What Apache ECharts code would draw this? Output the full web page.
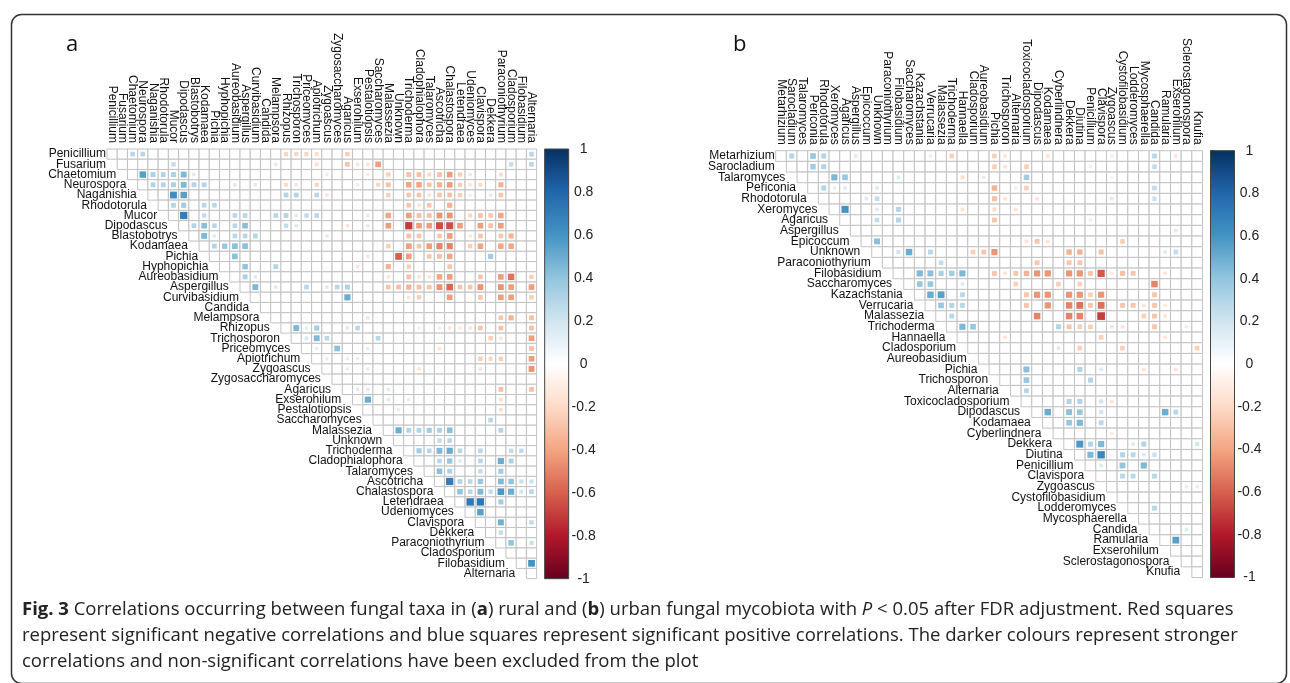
<!DOCTYPE html>
<html>
<head>
<meta charset="utf-8">
<title>Fig. 3 fungal correlations</title>
<script src="https://cdn.jsdelivr.net/npm/echarts@6/dist/echarts.min.js"></script>
<style>
html, body { margin: 0; padding: 0; background: #fff; }
#chart { width: 1290px; height: 683px; }
</style>
</head>
<body>
<div id="chart"></div>
<script>
// taxa, in plot order (rows top->bottom, columns left->right)
var taxaA = ['Penicillium', 'Fusarium', 'Chaetomium', 'Neurospora', 'Naganishia', 'Rhodotorula', 'Mucor',
	'Dipodascus', 'Blastobotrys', 'Kodamaea', 'Pichia', 'Hyphopichia', 'Aureobasidium', 'Aspergillus',
	'Curvibasidium', 'Candida', 'Melampsora', 'Rhizopus', 'Trichosporon', 'Priceomyces', 'Apiotrichum',
	'Zygoascus', 'Zygosaccharomyces', 'Agaricus', 'Exserohilum', 'Pestalotiopsis', 'Saccharomyces',
	'Malassezia', 'Unknown', 'Trichoderma', 'Cladophialophora', 'Talaromyces', 'Ascotricha', 'Chalastospora',
	'Letendraea', 'Udeniomyces', 'Clavispora', 'Dekkera', 'Paraconiothyrium', 'Cladosporium', 'Filobasidium',
	'Alternaria'];

var taxaB = ['Metarhizium', 'Sarocladium', 'Talaromyces', 'Periconia', 'Rhodotorula', 'Xeromyces', 'Agaricus',
	'Aspergillus', 'Epicoccum', 'Unknown', 'Paraconiothyrium', 'Filobasidium', 'Saccharomyces', 'Kazachstania',
	'Verrucaria', 'Malassezia', 'Trichoderma', 'Hannaella', 'Cladosporium', 'Aureobasidium', 'Pichia',
	'Trichosporon', 'Alternaria', 'Toxicocladosporium', 'Dipodascus', 'Kodamaea', 'Cyberlindnera', 'Dekkera',
	'Diutina', 'Penicillium', 'Clavispora', 'Zygoascus', 'Cystofilobasidium', 'Lodderomyces', 'Mycosphaerella',
	'Candida', 'Ramularia', 'Exserohilum', 'Sclerostagonospora', 'Knufia'];

// significant correlations: [row, col, r]  (rural)
var corrA = [
	[0,2,0.28],[0,3,0.28],[0,17,-0.22],[0,18,-0.22],[0,19,-0.22],[0,20,-0.2],[0,23,-0.25],[0,41,0.28],
	[1,6,0.25],[1,16,0.15],[1,20,-0.18],[1,23,-0.28],[1,24,-0.15],[1,25,-0.15],[1,26,-0.42],[1,39,0.25],[1,41,0.28],
	[2,3,0.55],[2,4,0.32],[2,5,0.3],[2,6,0.32],[2,7,0.45],[2,8,0.15],[2,21,-0.12],[2,25,-0.12],[2,27,-0.25],
	[2,29,-0.3],[2,30,-0.3],[2,31,-0.2],[2,32,-0.3],[2,33,-0.42],[2,34,-0.25],[2,35,-0.15],[2,38,-0.2],
	[3,4,0.3],[3,5,0.3],[3,6,0.32],[3,7,0.45],[3,8,0.3],[3,9,0.3],[3,12,0.15],[3,14,0.15],[3,17,-0.2],[3,18,-0.15],
	[3,20,-0.22],[3,24,-0.12],[3,26,-0.22],[3,27,-0.3],[3,29,-0.4],[3,30,-0.4],[3,31,-0.28],[3,32,-0.35],
	[3,33,-0.42],[3,34,-0.25],[3,35,-0.15],[3,36,-0.2],[3,38,-0.35],
	[4,6,0.62],[4,7,0.55],[4,17,0.3],[4,18,0.3],[4,20,0.28],[4,21,-0.15],[4,27,-0.25],[4,29,-0.28],[4,30,-0.28],
	[4,31,-0.15],[4,32,-0.28],[4,33,-0.3],[4,34,-0.25],[4,35,-0.12],[4,37,-0.15],[4,38,-0.28],
	[5,6,0.3],[5,7,0.35],[5,9,0.28],[5,10,0.28],[5,29,-0.28],[5,30,-0.15],[5,31,-0.28],[5,33,-0.35],
	[6,7,0.7],[6,9,0.25],[6,12,0.28],[6,13,0.28],[6,16,0.28],[6,17,0.3],[6,18,0.15],[6,19,0.25],[6,20,0.28],
	[6,25,-0.15],[6,27,-0.4],[6,29,-0.42],[6,30,-0.3],[6,31,-0.3],[6,32,-0.45],[6,33,-0.45],[6,35,-0.22],
	[6,36,-0.3],[6,37,-0.28],[6,38,-0.4],
	[7,8,0.3],[7,9,0.42],[7,10,0.28],[7,12,0.28],[7,13,0.42],[7,17,0.25],[7,18,0.15],[7,23,-0.15],[7,25,-0.15],
	[7,27,-0.42],[7,29,-0.7],[7,30,-0.42],[7,31,-0.42],[7,32,-0.65],[7,33,-0.65],[7,34,-0.42],[7,36,-0.42],
	[7,37,-0.3],[7,38,-0.42],
	[8,9,0.45],[8,10,0.15],[8,12,0.28],[8,13,0.28],[8,14,0.3],[8,21,0.15],[8,29,-0.3],[8,30,-0.28],[8,32,-0.28],
	[8,33,-0.42],[8,35,-0.15],[8,36,-0.28],[8,38,-0.28],[8,39,-0.35],
	[9,10,0.3],[9,11,0.38],[9,12,0.42],[9,13,0.42],[9,27,-0.25],[9,29,-0.42],[9,30,-0.28],[9,31,-0.42],
	[9,32,-0.5],[9,33,-0.5],[9,35,-0.25],[9,36,-0.4],[9,38,-0.4],[9,39,-0.4],
	[10,12,0.42],[10,25,-0.15],[10,28,-0.6],[10,29,-0.42],[10,31,-0.28],[10,32,-0.3],[10,33,-0.4],[10,37,0.35],
	[11,13,0.4],[11,16,0.3],[11,24,-0.15],[11,27,-0.35],[11,29,-0.25],[11,33,-0.28],
	[12,13,0.32],[12,14,0.15],[12,27,-0.15],[12,29,-0.3],[12,30,-0.15],[12,31,-0.15],[12,32,-0.4],[12,33,-0.42],
	[12,36,-0.28],[12,38,-0.42],[12,39,-0.55],[12,41,-0.25],
	[13,14,0.45],[13,16,0.15],[13,19,0.28],[13,21,0.15],[13,22,0.28],[13,23,0.32],[13,27,-0.28],[13,28,-0.3],
	[13,29,-0.35],[13,30,-0.3],[13,31,-0.28],[13,32,-0.45],[13,33,-0.58],[13,34,-0.28],[13,35,-0.28],
	[13,36,-0.45],[13,38,-0.45],[13,39,-0.42],[13,41,-0.42],
	[14,23,0.5],[14,29,-0.15],[14,30,-0.25],[14,33,-0.42],[14,36,-0.28],[14,38,-0.42],[14,39,-0.42],[14,41,-0.25],
	[16,25,0.15],[16,38,-0.28],[16,39,-0.35],[16,41,-0.3],
	[17,18,0.45],[17,19,0.12],[17,20,0.35],[17,23,0.15],[17,24,0.28],[17,30,-0.12],[17,32,-0.12],[17,33,-0.15],
	[17,34,-0.12],[17,35,-0.15],[17,36,-0.28],[17,38,-0.3],[17,41,-0.3],
	[18,19,0.18],[18,20,0.45],[18,21,0.28],[18,26,0.28],[18,37,-0.25],[18,38,-0.15],[18,41,-0.42],
	[19,20,0.12],[19,22,0.42],[19,25,0.12],[19,32,-0.15],[19,41,-0.3],
	[20,21,0.12],[20,23,0.12],[20,24,0.12],[20,36,-0.25],[20,37,-0.22],[20,38,-0.25],[20,41,-0.42],
	[21,23,0.12],[21,25,0.12],[21,30,-0.15],[21,36,-0.15],[21,41,-0.45],
	[23,24,0.15],[23,25,0.15],[23,27,0.15],[23,38,-0.3],[23,41,-0.3],
	[24,25,0.5],[24,27,0.15],[24,29,0.12],[24,38,-0.18],
	[25,28,0.12],[25,38,-0.18],
	[26,37,0.28],
	[27,28,0.5],[27,29,0.3],[27,30,0.3],[27,31,0.35],[27,32,0.32],[27,33,0.42],[27,38,0.3],
	[28,32,0.25],[28,33,0.28],
	[29,30,0.35],[29,31,0.28],[29,32,0.45],[29,33,0.5],[29,34,0.28],[29,36,0.28],[29,39,0.25],[29,40,0.25],
	[30,32,0.28],[30,33,0.38],[30,34,0.15],[30,36,0.28],[30,38,0.5],[30,39,0.32],
	[31,32,0.42],[31,33,0.32],[31,36,0.25],[31,38,0.35],
	[32,33,0.7],[32,34,0.3],[32,35,0.28],[32,36,0.38],[32,38,0.45],[32,39,0.4],[32,40,0.22],[32,41,0.22],
	[33,34,0.4],[33,35,0.28],[33,36,0.45],[33,37,0.25],[33,38,0.58],[33,39,0.5],[33,40,0.2],[33,41,0.28],
	[34,35,0.72],[34,36,0.72],[34,38,0.35],
	[35,36,0.55],
	[36,38,0.48],[36,41,0.25],
	[37,38,0.25],
	[38,39,0.4],[38,41,0.22],
	[40,41,0.6]
];

// significant correlations: [row, col, r]  (urban)
var corrB = [
	[0,1,0.3],[0,3,0.38],[0,4,0.3],[0,7,0.15],[0,14,-0.12],[0,16,-0.25],[0,20,-0.25],[0,21,-0.15],[0,25,-0.15],
	[0,31,-0.12],[0,35,0.28],[0,37,-0.15],
	[1,3,0.35],[1,4,0.3],[1,20,-0.25],[1,21,-0.15],[1,23,-0.25],[1,29,-0.12],[1,35,0.25],
	[2,5,0.45],[2,6,0.38],[2,11,0.15],[2,17,-0.18],[2,19,0.12],[2,23,0.35],[2,31,0.08],
	[3,4,0.3],[3,5,0.12],[3,6,0.15],[3,9,0.15],[3,20,-0.35],[3,22,-0.12],[3,23,-0.25],[3,35,0.25],
	[4,8,0.15],[4,9,0.25],[4,20,-0.3],[4,21,-0.15],[4,24,-0.15],[4,31,-0.15],[4,35,0.22],
	[5,6,0.6],[5,9,0.15],[5,11,0.3],[5,17,-0.15],[5,20,-0.2],[5,22,-0.15],
	[6,9,0.25],[6,11,0.3],[6,20,-0.28],[6,29,-0.12],
	[7,37,-0.15],
	[8,9,0.42],[8,23,-0.15],[8,24,-0.28],[8,25,-0.15],[8,32,-0.25],
	[9,11,0.2],[9,12,0.5],[9,14,0.28],[9,18,-0.25],[9,19,-0.28],[9,20,-0.45],[9,27,-0.35],[9,28,-0.35],
	[9,30,-0.3],[9,36,0.15],[9,37,0.25],
	[10,15,0.25],[10,24,-0.28],[10,27,-0.28],[10,28,-0.28],
	[11,13,0.45],[11,14,0.42],[11,15,0.32],[11,16,0.35],[11,17,0.45],[11,20,-0.28],[11,21,-0.15],[11,22,-0.28],
	[11,23,-0.35],[11,24,-0.45],[11,25,-0.45],[11,27,-0.45],[11,28,-0.45],[11,29,-0.28],[11,30,-0.62],
	[11,31,-0.12],[11,32,-0.3],[11,33,-0.28],[11,36,-0.15],
	[12,13,0.38],[12,14,0.38],[12,17,0.15],[12,22,-0.25],[12,26,-0.25],[12,28,-0.25],[12,35,-0.5],
	[13,14,0.5],[13,15,0.55],[13,17,0.28],[13,23,-0.28],[13,24,-0.45],[13,25,-0.45],[13,27,-0.45],[13,28,-0.45],
	[13,29,-0.25],[13,30,-0.45],[13,35,-0.28],
	[14,15,0.38],[14,16,0.3],[14,17,0.28],[14,23,-0.28],[14,25,-0.45],[14,27,-0.5],[14,28,-0.55],[14,29,-0.28],
	[14,30,-0.55],[14,32,-0.28],[14,33,-0.28],[14,34,-0.15],[14,35,-0.28],[14,36,-0.12],
	[15,16,0.28],[15,24,-0.5],[15,27,-0.5],[15,28,-0.5],[15,30,-0.7],[15,34,-0.25],[15,35,-0.28],[15,36,-0.15],
	[16,17,0.45],[16,18,0.38],[16,26,0.3],[16,27,-0.28],[16,28,-0.25],[16,29,-0.25],[16,31,-0.15],[16,32,-0.15],
	[16,35,-0.28],[16,38,-0.12],
	[17,21,-0.15],[17,30,-0.25],[17,36,-0.15],
	[18,26,0.15],[18,28,-0.25],[18,32,-0.25],[18,39,-0.25],
	[20,23,0.42],[20,28,0.3],[20,30,0.15],[20,34,-0.15],[20,37,-0.15],
	[21,23,0.38],[21,29,0.3],
	[22,23,0.28],
	[23,27,0.3],[23,28,0.3],[23,30,0.2],[23,31,-0.15],
	[24,25,0.5],[24,27,0.42],[24,28,0.38],[24,30,0.2],[24,36,0.5],[24,37,0.28],
	[25,27,0.38],[25,28,0.45],[25,30,0.28],
	[26,31,-0.12],
	[27,28,0.58],[27,29,0.3],[27,30,0.45],[27,33,0.15],[27,34,0.3],[27,39,0.2],
	[28,29,0.45],[28,30,0.65],[28,32,0.3],[28,33,0.28],[28,34,0.15],[28,35,0.22],
	[29,30,0.15],[29,32,0.4],[29,34,0.45],
	[30,32,0.28],[30,33,0.28],[30,35,0.28],
	[31,38,0.12],[31,39,0.12],
	[33,35,0.28],
	[35,38,0.15],
	[36,37,0.55]
];

// colour legend range
var legendMin = -1;
var legendMax = 1;
var legendStep = 0.2;

// corrplot RdBu ramp, -1 -> 1
var corrColors = ['#67001F', '#B2182B', '#D6604D', '#F4A582', '#FDDBC7', '#FFFFFF',
	'#D1E5F0', '#92C5DE', '#4393C3', '#2166AC', '#053061'];

var labelFont = '"Liberation Sans", Arial, sans-serif';

var panels = [
	{ taxa: taxaA, corr: corrA, left: 107, top: 149, cell: 10.23 },
	{ taxa: taxaB, corr: corrB, left: 775.7, top: 150.7, cell: 10.67 }
];

function renderCell(params, api) {
	var c = api.coord([api.value(0), api.value(1)]);
	var s = api.size([1, 1]);
	return {
		type: 'rect',
		shape: { x: c[0] - s[0] / 2, y: c[1] - s[1] / 2, width: s[0], height: s[1] },
		style: { fill: '#fff', stroke: '#c2c2c2', lineWidth: 1 }
	};
}

function makeRowLabel(taxa) {
	return function(params, api) {
		var i = api.value(1);
		var c = api.coord([Math.max(i - 1, 0), i]);
		var s = api.size([1, 1]);
		return {
			type: 'text',
			x: c[0] - s[0] / 2 - 1,
			y: c[1],
			style: {
				text: taxa[i],
				align: 'right',
				verticalAlign: 'middle',
				fontSize: 12,
				fontFamily: labelFont,
				fill: '#111'
			}
		};
	};
}

function renderSquare(params, api) {
	var c = api.coord([api.value(1), api.value(0)]);
	var s = api.size([1, 1]);
	var side = Math.sqrt(Math.abs(api.value(2))) * (s[0] - 1.5);
	return {
		type: 'rect',
		shape: { x: c[0] - side / 2, y: c[1] - side / 2, width: side, height: side },
		style: { fill: api.visual('color') }
	};
}

// gradient stops for the colour bar, top = +1
var barStops = [];
for (var k = 0; k < corrColors.length; k++) {
	barStops.push({ offset: k / (corrColors.length - 1), color: corrColors[corrColors.length - 1 - k] });
}

function renderBar(params, api) {
	var p0 = api.coord([0, legendMax]);
	var p1 = api.coord([1, legendMin]);
	return {
		type: 'rect',
		shape: { x: p0[0], y: p0[1], width: p1[0] - p0[0], height: p1[1] - p0[1] },
		style: {
			fill: new echarts.graphic.LinearGradient(0, 0, 0, 1, barStops),
			stroke: '#444',
			lineWidth: 1
		}
	};
}

var grids = [], xAxes = [], yAxes = [], series = [], squareSeries = [];

panels.forEach(function(p, idx) {
	var n = p.taxa.length;
	var size = n * p.cell;
	var g = idx * 2;

	grids.push({ left: p.left, top: p.top, width: size, height: size });
	grids.push({ left: p.left + size + 8, top: p.top, width: 24, height: size });

	xAxes.push({
		type: 'category', gridIndex: g, data: p.taxa, position: 'top',
		axisLine: { show: false }, axisTick: { show: false }, splitLine: { show: false },
		axisLabel: { interval: 0, rotate: 90, margin: 6, fontSize: 12, fontFamily: labelFont, color: '#111' }
	});
	yAxes.push({
		type: 'category', gridIndex: g, data: p.taxa, inverse: true, show: false
	});

	xAxes.push({ type: 'value', gridIndex: g + 1, min: 0, max: 1, show: false });
	yAxes.push({
		type: 'value', gridIndex: g + 1, min: legendMin, max: legendMax, interval: legendStep,
		position: 'right',
		axisLine: { show: false },
		splitLine: { show: false },
		axisTick: { show: true, length: 4, lineStyle: { color: '#333' } },
		axisLabel: { align: 'center', margin: 15, fontSize: 14, fontFamily: labelFont, color: '#222' }
	});

	var cells = [];
	for (var i = 0; i < n; i++) {
		for (var j = i; j < n; j++) cells.push([j, i]);
	}
	var rows = p.taxa.map(function(t, i) { return [i, i]; });

	series.push({
		type: 'custom', xAxisIndex: g, yAxisIndex: g, renderItem: renderCell,
		data: cells, silent: true
	});
	series.push({
		type: 'custom', xAxisIndex: g, yAxisIndex: g, renderItem: makeRowLabel(p.taxa),
		data: rows, silent: true
	});
	squareSeries.push(series.length);
	series.push({
		type: 'custom', xAxisIndex: g, yAxisIndex: g, renderItem: renderSquare,
		encode: { x: 1, y: 0 }, data: p.corr, silent: true
	});
	series.push({
		type: 'custom', xAxisIndex: g + 1, yAxisIndex: g + 1, renderItem: renderBar,
		data: [[0, 0]], silent: true
	});
});

var captionFont = '"Open Sans", "Noto Sans", sans-serif';
var captionSize = 18.5;
var captionLines = [
	'{b|Fig. 3} Correlations occurring between fungal taxa in ({b|a}) rural and ({b|b}) urban fungal mycobiota with {i|P} < 0.05 after FDR adjustment. Red squares',
	'represent significant negative correlations and blue squares represent significant positive correlations. The darker colours represent stronger',
	'correlations and non-significant correlations have been excluded from the plot'
];

var graphics = [
	{
		type: 'rect', left: 9, top: 12, z: -1,
		shape: { width: 1275, height: 669, r: 10 },
		style: { fill: 'none', stroke: '#333', lineWidth: 1.5 }
	},
	{ type: 'text', left: 66, top: 34, style: { text: 'a', fontSize: 22, fontFamily: captionFont, fill: '#111' } },
	{ type: 'text', left: 733, top: 34, style: { text: 'b', fontSize: 22, fontFamily: captionFont, fill: '#111' } }
];
captionLines.forEach(function(line, i) {
	graphics.push({
		type: 'text', left: 22, top: 600 + i * 26,
		style: {
			text: line, fontSize: captionSize, fontFamily: captionFont, fill: '#222',
			rich: {
				b: { fontSize: captionSize, fontFamily: captionFont, fontWeight: 'bold', fill: '#222' },
				i: { fontSize: captionSize, fontFamily: captionFont, fontStyle: 'italic', fill: '#222' }
			}
		}
	});
});

var myChart = echarts.init(document.getElementById('chart'));
var option = {
	backgroundColor: '#fff',
	animation: false,
	grid: grids,
	xAxis: xAxes,
	yAxis: yAxes,
	visualMap: [{
		type: 'continuous', show: false, min: legendMin, max: legendMax, dimension: 2,
		seriesIndex: squareSeries, inRange: { color: corrColors }
	}],
	graphic: graphics,
	series: series
};
myChart.setOption(option);
</script>
</body>
</html>
